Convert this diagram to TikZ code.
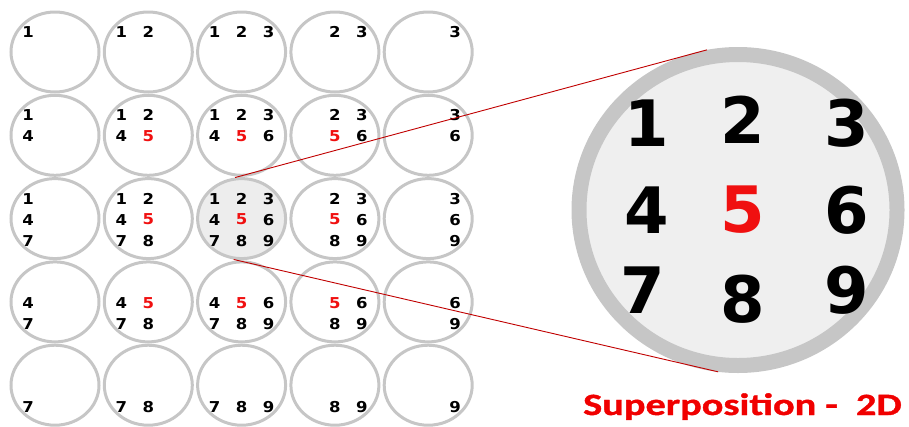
\documentclass[tikz,border=0pt]{standalone}
\usepackage{fontspec}
\setmainfont{DejaVu Sans}
\newfontfamily\smalldigitfont[FakeStretch=1.1]{DejaVu Sans}
\newfontfamily\titlefont[FakeStretch=1.3,BoldFont={Carlito Bold},BoldFeatures={FakeBold=1.2}]{Carlito}
\usetikzlibrary{shapes.geometric,calc}
\definecolor{ringgray}{HTML}{C6C6C6}
\definecolor{hlfill}{HTML}{EDEDED}
\definecolor{bigfill}{HTML}{EFEFEF}
\definecolor{digitred}{HTML}{F01010}
\definecolor{linered}{HTML}{C00000}
\definecolor{titlered}{HTML}{F00000}
\tikzset{
  cell/.style={ellipse, draw=ringgray, line width=3pt, minimum width=88pt, minimum height=80pt, inner sep=0pt},
  digit/.style={font=\smalldigitfont\fontsize{15}{15}\selectfont\bfseries, inner sep=0pt, anchor=center},
  bigcell/.style={ellipse, draw=ringgray, line width=15pt, fill=bigfill, minimum width=318pt, minimum height=311pt, inner sep=0pt},
  bigdigit/.style={font=\fontsize{64}{64}\selectfont\bfseries, inner sep=0pt, anchor=center},
  zoomline/.style={draw=linered, line width=0.9pt},
  titletext/.style={font=\titlefont\fontsize{31}{31}\selectfont\bfseries, text=titlered, inner sep=0pt, anchor=base west}
}
\begin{document}
\begin{tikzpicture}[x=1pt,y=-1pt]
\useasboundingbox (0,0) rectangle (909,426);
\foreach \c in {1,...,5} {
  \foreach \r in {1,...,5} {
    \pgfmathtruncatemacro\hl{(\c==3)&&(\r==3)}
    \ifnum\hl=1 \def\cf{hlfill}\else\def\cf{none}\fi
    \node[cell, fill=\cf] (c\c-\r) at ({55+93.3*(\c-1)},{52+83.3*(\r-1)}) {};
    \foreach \i in {-1,0,1} {
      \foreach \j in {-1,0,1} {
        \pgfmathtruncatemacro\ok{(\c>=2+\i)&&(\c<=4+\i)&&(\r>=2+\j)&&(\r<=4+\j)}
        \pgfmathtruncatemacro\d{3*(\j+1)+\i+2}
        \ifnum\d=5 \def\dcol{digitred}\else\def\dcol{black}\fi
        \ifnum\ok=1
          \node[digit, text=\dcol] (d\c-\r-\d) at ($(c\c-\r)+(27*\i,21*\j+1)$) {\d};
        \fi
      }
    }
  }
}
\node[bigcell] (big) at (738,210) {};
\node[bigdigit] (b1) at (647,123) {1};
\node[bigdigit] (b2) at (743,120) {2};
\node[bigdigit] (b3) at (847,123) {3};
\node[bigdigit] (b4) at (647,210) {4};
\node[bigdigit, text=digitred] (b5) at (743,210) {5};
\node[bigdigit] (b6) at (847,210) {6};
\node[bigdigit] (b7) at (643,290) {7};
\node[bigdigit] (b8) at (743,299) {8};
\node[bigdigit] (b9) at (847,290) {9};
\draw[zoomline] (c3-3.99) -- (big.101);
\draw[zoomline] (c3-3.-101) -- (big.-97);
\node[titletext] (title) at (583,415) {Superposition -\ \ 2D};
\end{tikzpicture}
\end{document}
